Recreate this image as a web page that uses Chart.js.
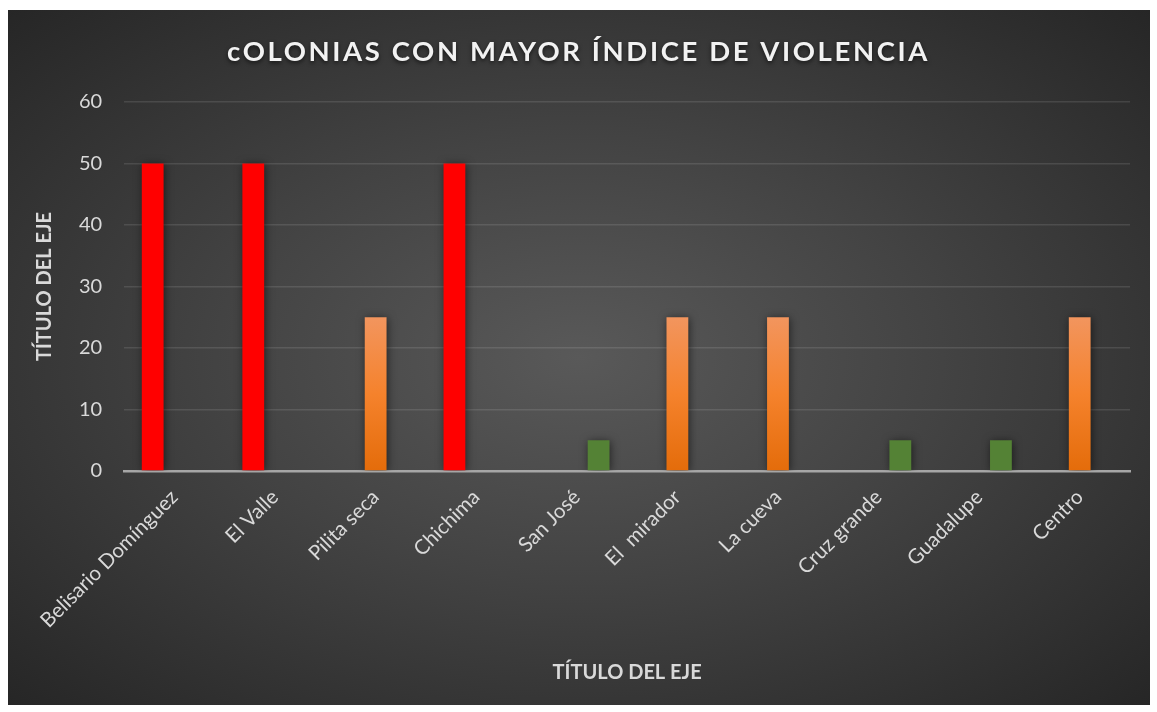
<!DOCTYPE html>
<html>
<head>
<meta charset="utf-8">
<script src="https://cdn.jsdelivr.net/npm/chart.js@4"></script>
<style>
  html, body { margin: 0; padding: 0; background: #ffffff; }
  #marco {
    position: absolute; left: 8px; top: 10px; width: 1142px; height: 695px;
    background: radial-gradient(ellipse farthest-corner at 50% 50%, #595959 0%, #434343 45%, #262626 100%);
  }
</style>
</head>
<body>
<div id="marco"><canvas id="grafica"></canvas></div>
<script>
// datos de la gráfica
const colonias = ['Belisario Domínguez', 'El Valle', 'Pilita seca', 'Chichima', 'San José', 'El  mirador', 'La cueva', 'Cruz grande', 'Guadalupe', 'Centro'];
const indiceAlto = [50, 50, null, 50, null, null, null, null, null, null];
const indiceMedio = [null, null, 25, null, null, 25, 25, null, null, 25];
const indiceBajo = [null, null, null, null, 5, null, null, 5, 5, null];
const ticksY = [0, 10, 20, 30, 40, 50, 60];

const FUENTE = "Lato, 'Open Sans', sans-serif";
const GRIS_TEXTO = '#d9d9d9';

// degradado naranja para cada barra
function naranja(context) {
    const chart = context.chart;
    const y = chart.scales.y;
    if (!chart.chartArea || !y || context.raw == null) return '#ed7d31';
    const g = chart.ctx.createLinearGradient(0, y.getPixelForValue(context.raw), 0, y.getPixelForValue(0));
    g.addColorStop(0, '#f2955e');
    g.addColorStop(0.5, '#f5822c');
    g.addColorStop(1, '#e46c0a');
    return g;
}

// espaciado de letras y sombra solo para el título, sombra en las barras
const estiloExtra = {
    id: 'estiloExtra',
    afterLayout(chart) {
        const t = chart.titleBlock;
        if (!t || t._conEstilo) return;
        const dibujar = t.draw.bind(t);
        t.draw = function(area) {
            const c = chart.ctx;
            c.save();
            c.letterSpacing = '2.6px';
            c.shadowColor = 'rgba(0,0,0,0.6)';
            c.shadowBlur = 4;
            c.shadowOffsetY = 2;
            dibujar(area);
            c.restore();
        };
        t._conEstilo = true;
    },
    beforeDatasetsDraw(chart) {
        chart.ctx.save();
        chart.ctx.shadowColor = 'rgba(0,0,0,0.55)';
        chart.ctx.shadowBlur = 8;
        chart.ctx.shadowOffsetX = 1;
        chart.ctx.shadowOffsetY = 1;
    },
    afterDatasetsDraw(chart) {
        chart.ctx.restore();
    }
};

const ctx = document.getElementById('grafica').getContext('2d');
new Chart(ctx, {
    type: 'bar',
    data: {
        labels: colonias,
        datasets: [{
            label: 'Alto',
            data: indiceAlto,
            backgroundColor: '#ff0000'
        }, {
            label: 'Medio',
            data: indiceMedio,
            backgroundColor: naranja
        }, {
            label: 'Bajo',
            data: indiceBajo,
            backgroundColor: '#548235'
        }]
    },
    plugins: [estiloExtra],
    options: {
        responsive: true,
        maintainAspectRatio: false,
        animation: false,
        layout: {
            padding: { left: 19, right: 20, top: 0, bottom: 13 }
        },
        datasets: {
            bar: {
                categoryPercentage: 0.65,
                barPercentage: 1.0
            }
        },
        plugins: {
            legend: { display: false },
            tooltip: { enabled: false },
            title: {
                display: true,
                text: 'cOLONIAS CON MAYOR ÍNDICE DE VIOLENCIA',
                color: '#f2f2f2',
                font: { family: FUENTE, size: 27.5, weight: 'bold' },
                padding: { top: 26, bottom: 33 }
            }
        },
        scales: {
            x: {
                afterFit(scale) {
                    scale.paddingLeft = 0;
                    scale.height = 221;
                },
                grid: { display: false, drawTicks: false },
                border: { color: '#a6a6a6', width: 2.5 },
                ticks: {
                    color: GRIS_TEXTO,
                    font: { family: FUENTE, size: 20.5 },
                    minRotation: 45,
                    maxRotation: 45,
                    padding: 14,
                    z: 1
                },
                title: {
                    display: true,
                    text: 'TÍTULO DEL EJE',
                    color: GRIS_TEXTO,
                    font: { family: FUENTE, size: 20, weight: 'bold' },
                    padding: { top: 11, bottom: 7 }
                }
            },
            y: {
                min: 0,
                max: 60,
                afterBuildTicks(scale) {
                    scale.ticks = ticksY.map(v => ({ value: v }));
                },
                grid: { color: 'rgba(255,255,255,0.11)', lineWidth: 1.5, drawTicks: false },
                border: { display: false },
                ticks: {
                    color: GRIS_TEXTO,
                    font: { family: FUENTE, size: 20 },
                    padding: 22,
                    z: 1
                },
                title: {
                    display: true,
                    text: 'TÍTULO DEL EJE',
                    color: GRIS_TEXTO,
                    font: { family: FUENTE, size: 20, weight: 'bold' },
                    padding: { top: 6, bottom: 0 }
                }
            }
        }
    }
});
</script>
</body>
</html>
